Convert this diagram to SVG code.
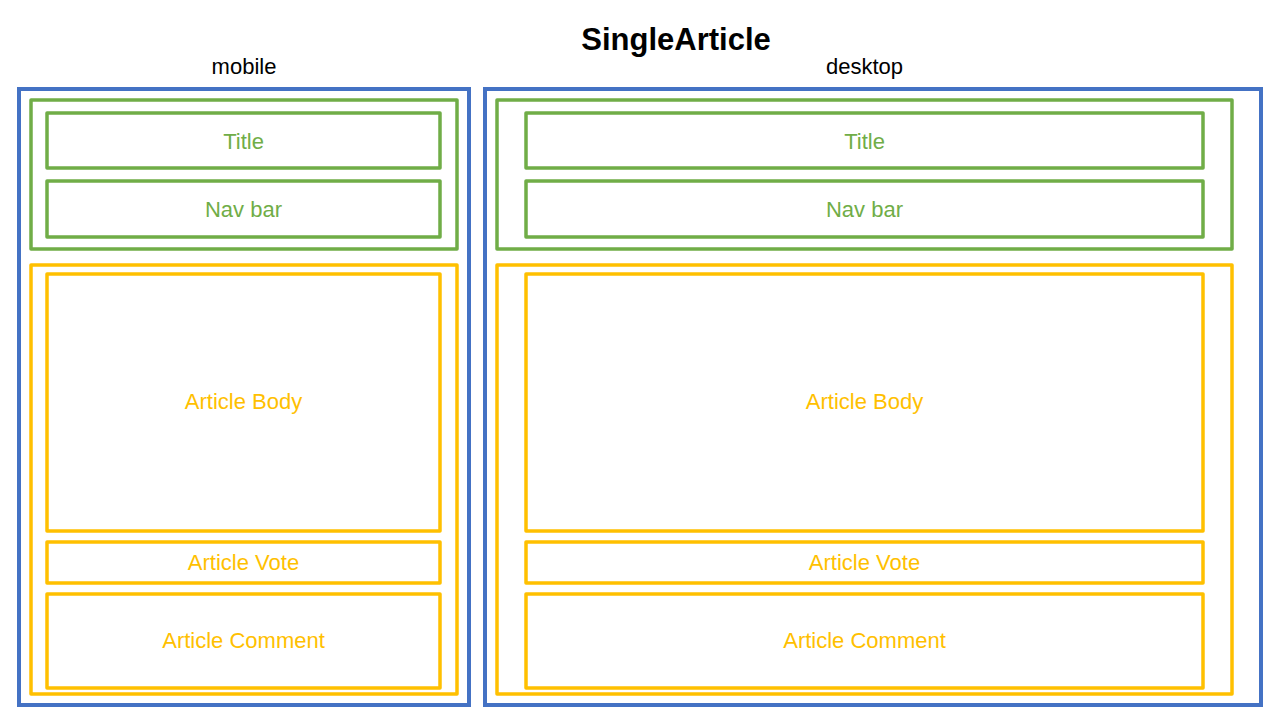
<svg xmlns="http://www.w3.org/2000/svg" width="1280" height="720" viewBox="0 0 1280 720">
  <style>
    .frame { fill: none; stroke: #4472C4; stroke-width: 4; }
    .g { fill: none; stroke: #70AD47; stroke-width: 3.5; stroke-linejoin: round; }
    .y { fill: none; stroke: #FFC000; stroke-width: 3.5; stroke-linejoin: round; }
    text { font-family: "Liberation Sans", Arial, sans-serif; font-size: 22px; text-anchor: middle; }
    .gt { fill: #70AD47; }
    .yt { fill: #FFC000; }
    .cap { fill: #000000; }
    .head { fill: #000000; font-size: 31px; font-weight: bold; }
  </style>
  <rect width="1280" height="720" fill="#ffffff"/>

  <text class="head" x="676" y="50">SingleArticle</text>

  <!-- Mobile layout -->
  <g id="mobile">
    <text class="cap" x="244" y="74">mobile</text>
    <rect class="frame" x="19" y="89" width="450" height="616"/>
    <g id="mobile-header">
      <rect class="g" x="31" y="100" width="426" height="149"/>
      <g id="mobile-title">
        <rect class="g" x="47" y="113" width="393" height="55"/>
        <text class="gt" x="243.5" y="149">Title</text>
      </g>
      <g id="mobile-navbar">
        <rect class="g" x="47" y="181" width="393" height="56"/>
        <text class="gt" x="243.5" y="217">Nav bar</text>
      </g>
    </g>
    <g id="mobile-article">
      <rect class="y" x="31" y="265" width="426" height="429"/>
      <g id="mobile-body">
        <rect class="y" x="47" y="274" width="393" height="257"/>
        <text class="yt" x="243.5" y="409">Article Body</text>
      </g>
      <g id="mobile-vote">
        <rect class="y" x="47" y="542" width="393" height="41"/>
        <text class="yt" x="243.5" y="570">Article Vote</text>
      </g>
      <g id="mobile-comment">
        <rect class="y" x="47" y="594" width="393" height="94"/>
        <text class="yt" x="243.5" y="648">Article Comment</text>
      </g>
    </g>
  </g>

  <!-- Desktop layout -->
  <g id="desktop">
    <text class="cap" x="864.5" y="74">desktop</text>
    <rect class="frame" x="485" y="89" width="776" height="616"/>
    <g id="desktop-header">
      <rect class="g" x="497" y="100" width="735" height="149"/>
      <g id="desktop-title">
        <rect class="g" x="526" y="113" width="677" height="55"/>
        <text class="gt" x="864.5" y="149">Title</text>
      </g>
      <g id="desktop-navbar">
        <rect class="g" x="526" y="181" width="677" height="56"/>
        <text class="gt" x="864.5" y="217">Nav bar</text>
      </g>
    </g>
    <g id="desktop-article">
      <rect class="y" x="497" y="265" width="735" height="429"/>
      <g id="desktop-body">
        <rect class="y" x="526" y="274" width="677" height="257"/>
        <text class="yt" x="864.5" y="409">Article Body</text>
      </g>
      <g id="desktop-vote">
        <rect class="y" x="526" y="542" width="677" height="41"/>
        <text class="yt" x="864.5" y="570">Article Vote</text>
      </g>
      <g id="desktop-comment">
        <rect class="y" x="526" y="594" width="677" height="94"/>
        <text class="yt" x="864.5" y="648">Article Comment</text>
      </g>
    </g>
  </g>

  <!-- no connectors in this layout -->
  <g id="connectors"/>
</svg>
